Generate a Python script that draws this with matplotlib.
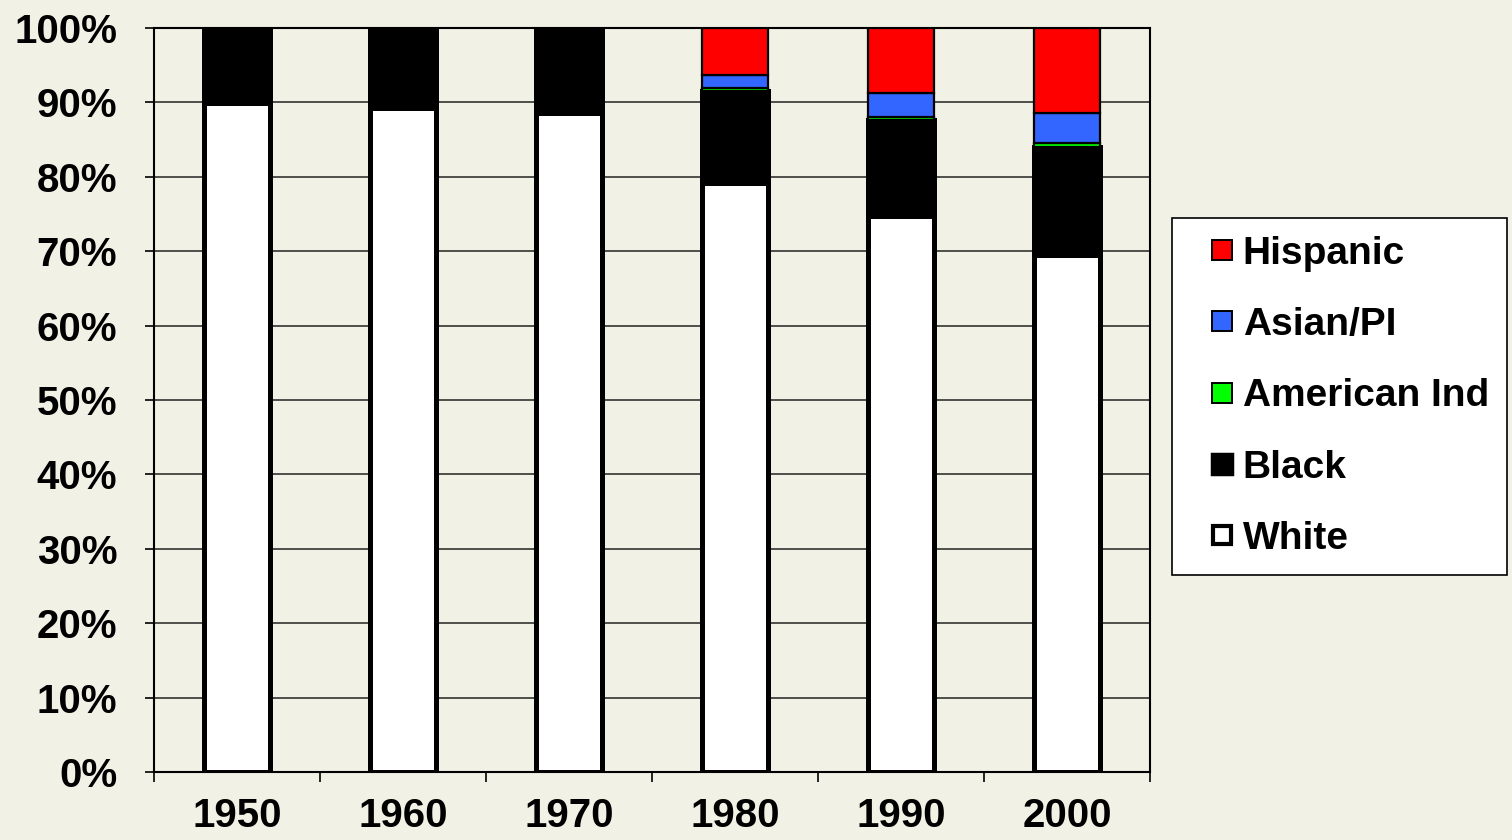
# Racial/ethnic composition by census year, stacked to 100%

import matplotlib.pyplot as plt
from matplotlib.lines import Line2D
import numpy as np

years = ["1950", "1960", "1970", "1980", "1990", "2000"]
white = [89.9, 89.2, 88.6, 79.2, 74.7, 69.5]
black = [10.1, 10.8, 11.4, 12.3, 12.9, 14.5]
amind = [0.0, 0.0, 0.0, 0.4, 0.5, 0.5]
asian = [0.0, 0.0, 0.0, 1.8, 3.1, 4.1]
hispanic = [0.0, 0.0, 0.0, 6.3, 8.8, 11.4]

bg = "#f2f1e6"
plt.rcParams["font.family"] = ["Liberation Sans", "DejaVu Sans"]
plt.rcParams["font.weight"] = "bold"

fig = plt.figure(figsize=(15.12, 8.4), dpi=100, facecolor=bg)
ax = fig.add_axes([154/1512, 1-772/840, 996/1512, 744/840])
ax.set_facecolor(bg)

x = np.arange(len(years))
w = 0.40
series = [
	("White", white, "white", 3.6),
	("Black", black, "black", 3.6),
	("American Ind", amind, "#00ff00", 1.6),
	("Asian/PI", asian, "#3366ff", 1.6),
	("Hispanic", hispanic, "#ff0000", 1.6),
]
bottom = np.zeros(len(years))
for name, vals, col, lw in series:
	vals = np.array(vals)
	mask = vals > 0
	ax.bar(x[mask], vals[mask], w, bottom=bottom[mask], color=col,
		edgecolor="black", linewidth=lw, zorder=3)
	bottom += vals

ax.set_xlim(-0.5, 5.5)
ax.set_ylim(0, 100)
ax.set_yticks(np.arange(0, 101, 10))
ax.set_yticklabels([f"{v}%" for v in range(0, 101, 10)])
ax.yaxis.grid(True, color="#222222", linewidth=1.1, zorder=0)
ax.set_xticks(x)
ax.set_xticklabels(years)
ax.set_xticks(np.arange(-0.5, 6, 1), minor=True)
ax.tick_params(axis="x", which="major", length=0, pad=18, labelsize=29)
ax.tick_params(axis="x", which="minor", length=7, width=1.2, direction="out")
ax.tick_params(axis="y", length=6.5, width=1.2, pad=20, labelsize=29)
for s in ax.spines.values():
	s.set_linewidth(1.5)

handles = [
	Line2D([], [], ls="none", marker="s", ms=14, mfc="#ff0000", mec="black", mew=1.4),
	Line2D([], [], ls="none", marker="s", ms=14, mfc="#3366ff", mec="black", mew=1.4),
	Line2D([], [], ls="none", marker="s", ms=14, mfc="#00ff00", mec="black", mew=1.4),
	Line2D([], [], ls="none", marker="s", ms=14, mfc="black", mec="black", mew=2.5),
	Line2D([], [], ls="none", marker="s", ms=13, mfc="white", mec="black", mew=3),
]
labels = ["Hispanic", "Asian/PI", "American Ind", "Black", "White"]
leg = fig.legend(handles, labels, loc="upper left",
	bbox_to_anchor=(1172/1512, 1-218/840), fontsize=28, frameon=True,
	fancybox=False, framealpha=1, edgecolor="black", borderpad=0.45,
	labelspacing=0.91, handlelength=1.67, handletextpad=-0.3, borderaxespad=0)
leg.get_frame().set_linewidth(1.2)

plt.savefig("out.png", dpi=100, facecolor=bg)
